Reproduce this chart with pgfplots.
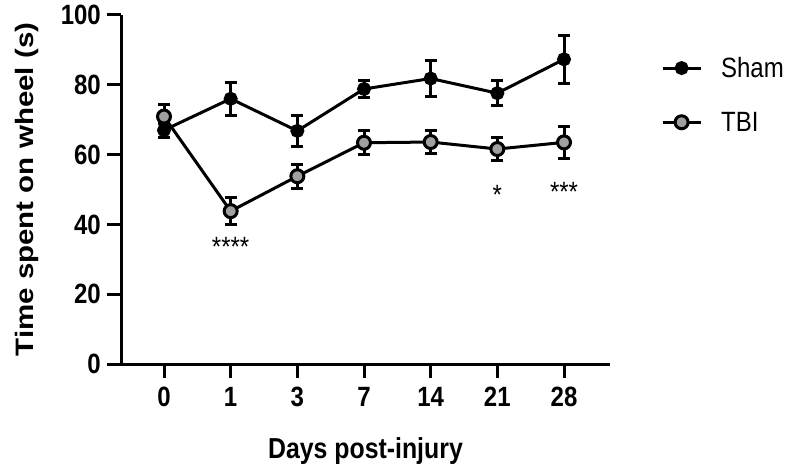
\documentclass[border=0pt]{standalone}
\usepackage{fontspec}
\setmainfont{Liberation Sans}[FakeStretch=0.86]
\newfontfamily\ylabfont{Liberation Sans}[FakeStretch=1.17]
\usepackage{pgfplots}
\pgfplotsset{compat=1.18}
\definecolor{tbigray}{HTML}{A0A0A0}

\pgfplotstableread{
x y e
0 67.0 2.0
1 76.0 4.8
2 66.8 4.4
3 78.8 2.3
4 81.8 5.2
5 77.6 3.5
6 87.3 6.9
}\sham

\pgfplotstableread{
x y e
0 70.9 3.5
1 43.8 3.9
2 53.8 3.5
3 63.4 3.4
4 63.6 3.4
5 61.6 3.4
6 63.5 4.6
}\tbi

\begin{document}
\begin{tikzpicture}
\begin{axis}[
  scale only axis,
  width=489bp, height=349bp,
  xmin=-0.645, xmax=6.69,
  ymin=0, ymax=100,
  axis lines=left,
  axis line style={line width=3bp, -},
  xtick={0,...,6},
  xticklabels={0,1,3,7,14,21,28},
  ytick={0,20,...,100},
  tick style={line width=3bp, black},
  tick align=outside,
  major tick length=14bp,
  /pgf/number format/assume math mode=true,
  tick label style={font=\fontsize{28}{32}\selectfont\bfseries},
  yticklabel style={inner sep=6bp},
  xticklabel style={inner sep=9bp},
  xlabel={Days post-injury},
  xlabel style={font=\fontsize{29}{33}\selectfont\bfseries, yshift=-18bp},
  ylabel={Time spent on wheel (s)},
  ylabel style={font=\ylabfont\fontsize{25.3}{29}\selectfont\bfseries, yshift=13bp},
  clip=false,
  legend style={at={(1.098,0.891)}, anchor=north west, draw=none, fill=none,
    font=\fontsize{28}{32}\selectfont, row sep=29bp,
    /tikz/every odd column/.append style={column sep=17bp}},
  legend cell align=left,
  legend image code/.code={%
    \draw[mark repeat=2, mark phase=2] plot coordinates {(0bp,0bp) (19bp,0bp) (38bp,0bp)};},
]
  \coordinate (bl) at (rel axis cs:0,0);
  \coordinate (tr) at (rel axis cs:1,1);

  \addplot[black, line width=3bp, mark=*, mark size=5.5bp,
    mark options={fill=black},
    error bars/.cd, y dir=both, y explicit,
    error bar style={line width=3bp, black},
    error mark options={rotate=90, mark size=6bp, line width=3bp, black}]
    table[x=x, y=y, y error=e] {\sham};
  \addlegendentry{Sham}

  \addplot[black, line width=3bp, mark=*, mark size=6.5bp,
    mark options={fill=tbigray, line width=3bp},
    error bars/.cd, y dir=both, y explicit,
    error bar style={line width=3bp, black},
    error mark options={rotate=90, mark size=6bp, line width=3bp, black}]
    table[x=x, y=y, y error=e] {\tbi};
  \addlegendentry{TBI}

  \node[anchor=base, font=\fontsize{28}{32}\selectfont] at (axis cs:1,30.7) {****};
  \node[anchor=base, font=\fontsize{28}{32}\selectfont] at (axis cs:5,45.8) {*};
  \node[anchor=base, font=\fontsize{28}{32}\selectfont] at (axis cs:6,46.7) {***};
\end{axis}
\pgfresetboundingbox
\path (bl) ++(-121bp,-110bp) coordinate (p1);
\path (tr) ++(182bp,15bp) coordinate (p2);
\path[use as bounding box] (p1) rectangle (p2);
\end{tikzpicture}
\end{document}
